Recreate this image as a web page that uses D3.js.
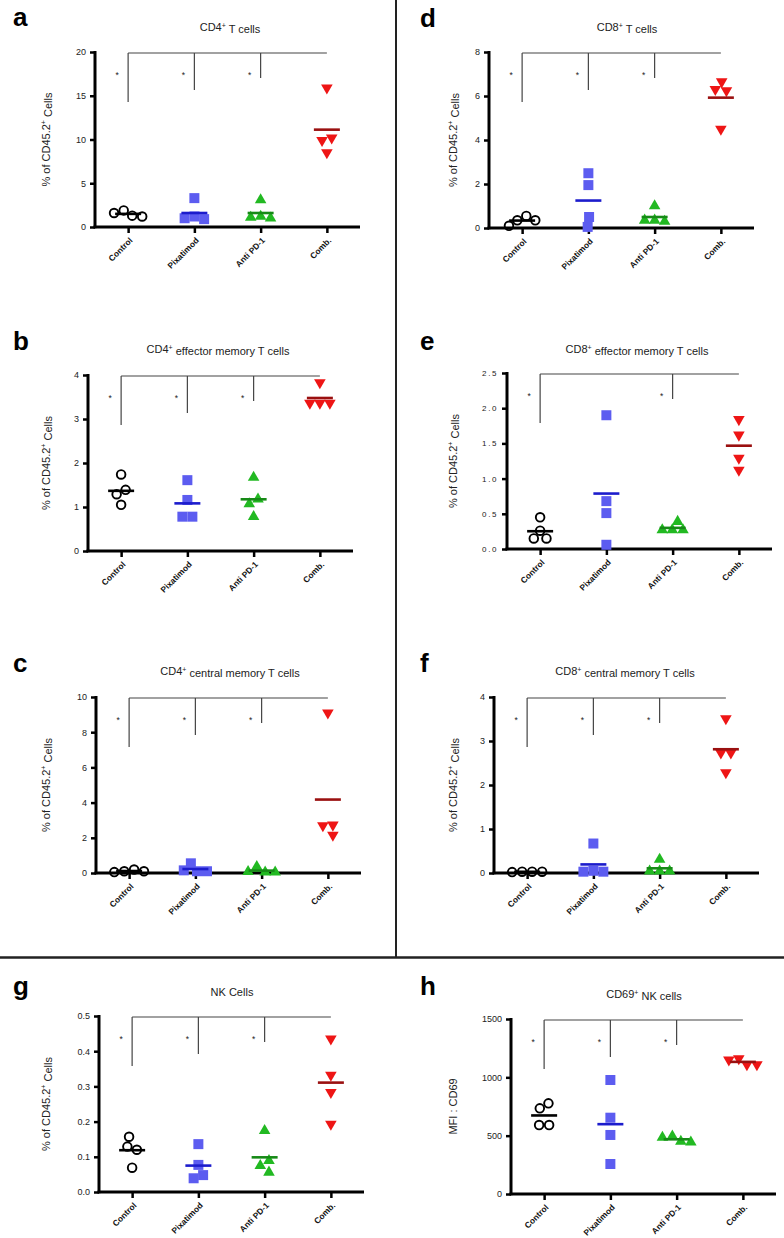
<!DOCTYPE html>
<html><head><meta charset="utf-8">
<script src="https://cdn.jsdelivr.net/npm/d3@7"></script>
<style>
body{margin:0;background:#fff}
text{font-family:"Liberation Sans",Arial,Helvetica,sans-serif}
</style></head><body>
<svg id="c" width="784" height="1238"></svg>
<script>
// ---------- data ----------
const categories = ["Control", "Pixatimod", "Anti PD-1", "Comb."];

const cd4T      = [[1.9, 1.6, 1.3, 1.2], [3.3, 1.2, 1.0, 0.9], [3.1, 1.2, 1.1, 1.0], [15.9, 10.2, 9.9, 8.5]];
const cd8T      = [[0.55, 0.35, 0.35, 0.1], [2.49, 1.95, 0.5, 0.05], [1.0, 0.35, 0.35, 0.3], [6.65, 6.3, 6.25, 4.5]];
const cd4Em     = [[1.74, 1.39, 1.29, 1.05], [1.61, 1.16, 0.78, 0.78], [1.67, 1.18, 1.07, 0.78], [3.83, 3.36, 3.36, 3.36]];
const cd8Em     = [[0.45, 0.26, 0.15, 0.15], [1.9, 0.68, 0.51, 0.06], [0.39, 0.27, 0.27, 0.27], [1.84, 1.62, 1.29, 1.12]];
const cd4Cm     = [[0.2, 0.1, 0.1, 0.05], [0.55, 0.15, 0.1, 0.1], [0.36, 0.08, 0.05, 0.05], [9.1, 2.73, 2.7, 2.16]];
const cd8Cm     = [[0.03, 0.03, 0.03, 0.02], [0.67, 0.05, 0.03, 0.03], [0.31, 0.04, 0.04, 0.04], [3.51, 2.73, 2.73, 2.28]];
const nkCells   = [[0.157, 0.129, 0.12, 0.069], [0.136, 0.077, 0.048, 0.039], [0.174, 0.089, 0.075, 0.056], [0.435, 0.332, 0.283, 0.193]];
const cd69Nk    = [[777, 734, 591, 591], [977, 654, 506, 257], [495, 485, 450, 445], [1160, 1150, 1110, 1110]];

const ticksA = [0, 5, 10, 15, 20];
const ticksD = [0, 2, 4, 6, 8];
const ticksB = [0, 1, 2, 3, 4];
const ticksE = [0, 0.5, 1.0, 1.5, 2.0, 2.5];
const ticksC = [0, 2, 4, 6, 8, 10];
const ticksF = [0, 1, 2, 3, 4];
const ticksG = [0, 0.1, 0.2, 0.3, 0.4, 0.5];
const ticksH = [0, 500, 1000, 1500];

const sigAll = ["Control", "Pixatimod", "Anti PD-1"];
const sigE = ["Control", "Anti PD-1"];

const letters = ["a", "d", "b", "e", "c", "f", "g", "h"];
const titles = [
  ["CD4", "+", "  T cells"], ["CD8", "+", "  T cells"],
  ["CD4", "+", " effector memory T cells"], ["CD8", "+", " effector memory T cells"],
  ["CD4", "+", " central memory T cells"], ["CD8", "+", " central memory T cells"],
  ["NK Cells", "", ""], ["CD69", "+", " NK cells"]
];
const pctLabel = ["% of CD45.2", "+", " Cells"];
const mfiLabel = ["MFI : CD69", "", ""];

const panels = [
  {values: cd4T,  ticks: ticksA, fmt: "d",   sig: sigAll, ylab: pctLabel},
  {values: cd8T,  ticks: ticksD, fmt: "d",   sig: sigAll, ylab: pctLabel},
  {values: cd4Em, ticks: ticksB, fmt: "d",   sig: sigAll, ylab: pctLabel},
  {values: cd8Em, ticks: ticksE, fmt: ".1f", sig: sigE,   ylab: pctLabel, spaced: true},
  {values: cd4Cm, ticks: ticksC, fmt: "d",   sig: sigAll, ylab: pctLabel},
  {values: cd8Cm, ticks: ticksF, fmt: "d",   sig: sigAll, ylab: pctLabel},
  {values: nkCells, ticks: ticksG, fmt: ".1f", sig: sigAll, ylab: pctLabel},
  {values: cd69Nk, ticks: ticksH, fmt: "d",  sig: sigAll, ylab: mfiLabel}
];

// ---------- layout (styling only) ----------
const layout = [
  {left: 95,  top: 52,   bottom: 227,  lx: 13,  ly: 26,  tx: 230, ty: 31,  ylx: 47},
  {left: 489, top: 52,   bottom: 228,  lx: 420, ly: 27,  tx: 627, ty: 31,  ylx: 454},
  {left: 88,  top: 375,  bottom: 551,  lx: 13,  ly: 350, tx: 218, ty: 353, ylx: 47},
  {left: 507, top: 373,  bottom: 549,  lx: 420, ly: 350, tx: 637, ty: 353, ylx: 454},
  {left: 96,  top: 697,  bottom: 873,  lx: 13,  ly: 672, tx: 230, ty: 675, ylx: 47},
  {left: 494, top: 697,  bottom: 873,  lx: 420, ly: 672, tx: 625, ty: 675, ylx: 454},
  {left: 99,  top: 1016, bottom: 1192, lx: 13,  ly: 995, tx: 232, ty: 996, ylx: 47},
  {left: 511, top: 1019, bottom: 1194, lx: 420, ly: 995, tx: 644, ty: 998, ylx: 454}
];
const plotW = 265;
const fills   = ["none", "#5c5cf0", "#22b922", "#ee1515"];
const meanCol = ["#000", "#1c1ccc", "#178a17", "#9a1010"];
const dropLen = [49, 37, 25];

const svg = d3.select("#c");

// dividers
svg.append("line").attr("x1", 396).attr("x2", 396).attr("y1", 0).attr("y2", 957)
  .attr("stroke", "#222").attr("stroke-width", 2);
svg.append("line").attr("x1", 0).attr("x2", 784).attr("y1", 957.5).attr("y2", 957.5)
  .attr("stroke", "#222").attr("stroke-width", 2.5);

// beeswarm placement, then each overlapping cluster is centred on the category
function swarm(vals, y, D) {
  const pts = vals.map((v, i) => ({v, i, py: y(v)})).sort((a, b) => a.py - b.py);
  const placed = [];
  for (const p of pts) {
    const cands = [0];
    for (const q of placed) {
      const dy = Math.abs(p.py - q.py);
      if (dy < D) { const dx = Math.sqrt(D * D - dy * dy); cands.push(q.x + dx, q.x - dx); }
    }
    cands.sort((a, b) => Math.abs(a) - Math.abs(b) || a - b);
    for (const c of cands) {
      if (placed.every(q => Math.hypot(c - q.x, p.py - q.py) >= D - 1e-6)) { p.x = c; break; }
    }
    if (p.x === undefined) p.x = 0;
    placed.push(p);
  }
  // clusters: chains of points closer than D vertically
  let cluster = [placed[0]];
  const clusters = [cluster];
  for (let k = 1; k < placed.length; k++) {
    if (placed[k].py - placed[k - 1].py < D) cluster.push(placed[k]);
    else { cluster = [placed[k]]; clusters.push(cluster); }
  }
  clusters.forEach(cl => {
    const ext = d3.extent(cl, q => q.x);
    const shift = (ext[0] + ext[1]) / 2;
    cl.forEach(q => q.x -= shift);
  });
  return placed;
}

function addRich(sel, parts, supSize) {
  sel.append("tspan").text(parts[0]);
  if (parts[1]) sel.append("tspan").attr("dy", "-0.45em").attr("font-size", supSize).text(parts[1]);
  if (parts[2]) sel.append("tspan").attr("dy", parts[1] ? "0.45em" : 0).text(parts[2]);
}

panels.forEach((p, pi) => {
  const L = layout[pi];
  const g = svg.append("g");
  const x = d3.scalePoint().domain(categories).range([L.left, L.left + plotW]).padding(0.5);
  const y = d3.scaleLinear().domain([0, d3.max(p.ticks)]).range([L.bottom, L.top]);

  // letter
  g.append("text").attr("x", L.lx).attr("y", L.ly).attr("font-size", 26).attr("font-weight", "bold")
    .attr("fill", "#000").text(letters[pi]);
  // title
  const t = g.append("text").attr("x", L.tx).attr("y", L.ty).attr("text-anchor", "middle")
    .attr("font-size", 11).attr("fill", "#222");
  addRich(t, titles[pi], 7);

  // y label
  const yl = g.append("text").attr("transform", `translate(${L.ylx},${(L.top + L.bottom) / 2}) rotate(-90)`)
    .attr("text-anchor", "middle").attr("dominant-baseline", "middle")
    .attr("font-size", 11).attr("fill", "#222");
  addRich(yl, p.ylab, 7);

  // y axis
  const yAxis = d3.axisLeft(y).tickValues(p.ticks).tickFormat(d3.format(p.fmt)).tickSize(5).tickPadding(4);
  const ya = g.append("g").attr("transform", `translate(${L.left},0)`).call(yAxis);
  ya.select(".domain").remove();
  ya.selectAll(".tick line").attr("stroke", "#000").attr("stroke-width", 2.5);
  ya.selectAll(".tick text").attr("fill", "#222")
    .attr("font-family", '"Liberation Sans",Arial,sans-serif')
    .attr("letter-spacing", p.spaced ? "1.6px" : null)
    .attr("font-size", p.spaced ? 8 : 9);
  g.append("line").attr("x1", L.left).attr("x2", L.left).attr("y1", L.top - 1).attr("y2", L.bottom + 1.25)
    .attr("stroke", "#000").attr("stroke-width", 3);

  // x axis
  const xAxis = d3.axisBottom(x).tickSize(6).tickFormat("");
  const xa = g.append("g").attr("transform", `translate(0,${L.bottom})`).call(xAxis);
  xa.select(".domain").remove();
  xa.selectAll(".tick line").attr("stroke", "#000").attr("stroke-width", 2.5);
  g.append("line").attr("x1", L.left - 1.5).attr("x2", L.left + plotW).attr("y1", L.bottom).attr("y2", L.bottom)
    .attr("stroke", "#000").attr("stroke-width", 3);
  categories.forEach(c => {
    g.append("text").attr("transform", `translate(${x(c) + 5},${L.bottom + 14}) rotate(-45)`)
      .attr("text-anchor", "end").attr("font-size", 8.4).attr("font-weight", "bold").attr("fill", "#111")
      .text(c);
  });

  // significance bracket
  const by = L.top + 1;
  g.append("line").attr("x1", x(categories[0])).attr("x2", x(categories[3])).attr("y1", by).attr("y2", by)
    .attr("stroke", "#444").attr("stroke-width", 1.2);
  p.sig.forEach(c => {
    const ci = categories.indexOf(c);
    g.append("line").attr("x1", x(c)).attr("x2", x(c)).attr("y1", by).attr("y2", by + dropLen[ci])
      .attr("stroke", "#444").attr("stroke-width", 1.2);
    g.append("text").attr("x", x(c) - 11).attr("y", L.top + 26).attr("text-anchor", "middle")
      .attr("font-size", 8.5).attr("fill", "#222").text("*");
  });

  // points
  p.values.forEach((vals, ci) => {
    const cx = x(categories[ci]);
    const pts = swarm(vals, y, 10);
    const sg = g.append("g");
    pts.forEach(pt => {
      if (ci === 0) {
        sg.append("circle").attr("cx", cx + pt.x).attr("cy", pt.py).attr("r", 4.3)
          .attr("fill", "none").attr("stroke", "#000").attr("stroke-width", 1.9);
      } else if (ci === 1) {
        sg.append("path").attr("d", d3.symbol(d3.symbolSquare, 100)())
          .attr("transform", `translate(${cx + pt.x},${pt.py})`).attr("fill", fills[ci]);
      } else {
        sg.append("path").attr("d", d3.symbol(d3.symbolTriangle, 58)())
          .attr("transform", `translate(${cx + pt.x},${pt.py})` + (ci === 3 ? " rotate(180)" : ""))
          .attr("fill", fills[ci]);
      }
    });
    const m = d3.mean(vals);
    g.append("line").attr("x1", cx - 13).attr("x2", cx + 13).attr("y1", y(m)).attr("y2", y(m))
      .attr("stroke", meanCol[ci]).attr("stroke-width", 2.6);
  });
});
</script>
</body></html>
